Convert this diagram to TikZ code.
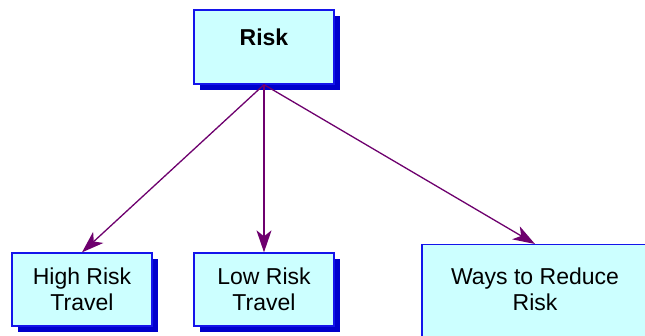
\documentclass[tikz,border=0pt]{standalone}
\usepackage{fontspec}
\setmainfont{Liberation Sans}
\usetikzlibrary{arrows.meta,shadows}

\definecolor{boxfill}{RGB}{204,255,255}
\definecolor{boxline}{RGB}{20,20,235}
\definecolor{boxshadow}{RGB}{0,0,204}
\definecolor{linkcol}{RGB}{110,0,110}

\tikzset{
	topicbox/.style={draw=boxline, line width=1.3pt, fill=boxfill, align=center,
		inner sep=0pt, font=\fontsize{23}{26}\selectfont,
		drop shadow={shadow xshift=6pt, shadow yshift=-6pt, fill=boxshadow, opacity=1}},
	link/.style={draw=linkcol, line width=1.3pt, -{Stealth[length=22pt, width=15pt, inset=6pt]}}
}

\begin{document}
\begin{tikzpicture}[x=1pt, y=-1pt]
			%%%%% START %%%%%
			
			\clip (0, 0) rectangle (645, 335);
			\fill[white] (0, 0) rectangle (645, 335);
			
			\node[topicbox, minimum width=140pt, minimum height=74pt, text height=16pt, text depth=19pt,
				font=\fontsize{23}{26}\selectfont\bfseries] (risk) at (264, 47) {Risk};
			
			\node[topicbox, minimum width=140pt, minimum height=73pt] (high) at (82, 289.5) {High Risk\\Travel};
			\node[topicbox, minimum width=140pt, minimum height=73pt] (low) at (264, 289.5) {Low Risk\\Travel};
			\node[topicbox, minimum width=226pt, minimum height=96pt, text depth=7pt, anchor=north] (ways) at (535, 244) {Ways to Reduce\\Risk};
			
			\draw[link] (risk.south) -- (high.north);
			\draw[link] (risk.south) -- (low.north);
			\draw[link] (risk.south) -- (ways.north);
			
			%%%%% END %%%%%
\end{tikzpicture}
\end{document}
